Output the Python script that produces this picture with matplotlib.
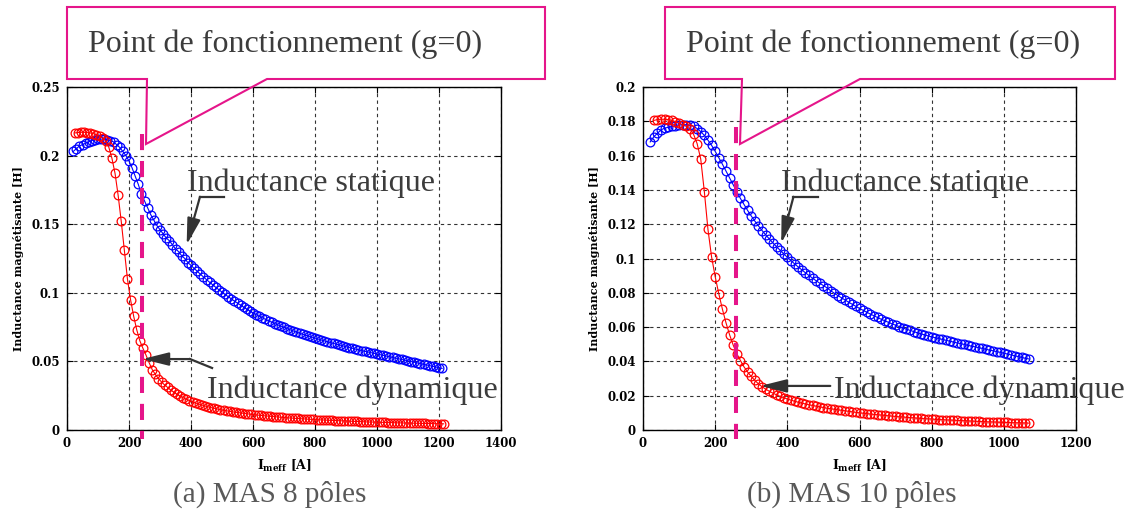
import numpy as np
import matplotlib
matplotlib.use("Agg")
import matplotlib.pyplot as plt
from matplotlib.patches import Polygon

plt.rcParams['font.family'] = 'DejaVu Serif'
plt.rcParams['font.weight'] = 'bold'
plt.rcParams['axes.labelweight'] = 'bold'
plt.rcParams['mathtext.fontset'] = 'dejavuserif'

# ---- data : MAS 8 poles -------------------------------------------------
i_stat_8 = list(range(20, 1211, 10))
L_stat_8 = [0.203, 0.205, 0.207, 0.208, 0.209, 0.210, 0.211, 0.2115, 0.212, 0.212,
            0.212, 0.2115, 0.211, 0.210, 0.208, 0.206, 0.203, 0.200, 0.196, 0.191,
            0.185, 0.179, 0.172, 0.167, 0.162, 0.157, 0.153, 0.149, 0.146, 0.143,
            0.140, 0.138, 0.135, 0.132, 0.130, 0.127, 0.125, 0.122, 0.120, 0.1178,
            0.1157, 0.1136, 0.1116, 0.1096, 0.1077, 0.1058, 0.1040, 0.1022, 0.1005, 0.0988,
            0.0972, 0.0956, 0.0940, 0.0925, 0.0910, 0.0895, 0.0881, 0.0867, 0.0853, 0.0841,
            0.0829, 0.0818, 0.0807, 0.0796, 0.0786, 0.0776, 0.0766, 0.0757, 0.0748, 0.0739,
            0.0730, 0.0722, 0.0714, 0.0706, 0.0698, 0.0691, 0.0684, 0.0677, 0.0670, 0.0663,
            0.0656, 0.0650, 0.0643, 0.0637, 0.0631, 0.0625, 0.0619, 0.0613, 0.0607, 0.0601,
            0.0596, 0.0590, 0.0585, 0.0579, 0.0574, 0.0569, 0.0564, 0.0559, 0.0554, 0.0549,
            0.0544, 0.0539, 0.0534, 0.0529, 0.0524, 0.0519, 0.0514, 0.0509, 0.0504, 0.0499,
            0.0494, 0.0489, 0.0484, 0.0479, 0.0474, 0.0469, 0.0464, 0.0459, 0.0454, 0.0449]

i_dyn_8 = list(range(25, 1216, 10))
L_dyn_8 = [0.2165, 0.2168, 0.217, 0.217, 0.2168, 0.2165, 0.216, 0.2152, 0.2142, 0.2128,
           0.2105, 0.206, 0.198, 0.187, 0.171, 0.152, 0.131, 0.110, 0.095, 0.083,
           0.073, 0.065, 0.0595, 0.0545, 0.049, 0.044, 0.0405, 0.0375, 0.035, 0.0328,
           0.031, 0.029, 0.0275, 0.026, 0.0247, 0.0235, 0.0224, 0.0214, 0.0205, 0.0197,
           0.0189, 0.0182, 0.0175, 0.0169, 0.0163, 0.0158, 0.0153, 0.0148, 0.0144, 0.0140,
           0.0136, 0.0132, 0.0129, 0.0126, 0.0123, 0.0120, 0.0117, 0.0114, 0.0111, 0.0109,
           0.0106, 0.0104, 0.0102, 0.0100, 0.0098, 0.0096, 0.0094, 0.0092, 0.0090, 0.0088,
           0.0087, 0.0085, 0.0084, 0.0082, 0.0081, 0.0079, 0.0078, 0.0077, 0.0075, 0.0074,
           0.0073, 0.0072, 0.0071, 0.0070, 0.0069, 0.0068, 0.0067, 0.0066, 0.0065, 0.0064,
           0.0063, 0.0062, 0.0061, 0.0060, 0.0059, 0.0058, 0.0058, 0.0057, 0.0056, 0.0056,
           0.0055, 0.0054, 0.0054, 0.0053, 0.0052, 0.0052, 0.0051, 0.0051, 0.0050, 0.0050,
           0.0049, 0.0049, 0.0048, 0.0048, 0.0047, 0.0047, 0.0046, 0.0046, 0.0045, 0.0045]

# ---- data : MAS 10 poles ------------------------------------------------
i_stat_10 = list(range(20, 1071, 10))
L_stat_10 = [0.168, 0.171, 0.173, 0.175, 0.176, 0.1765, 0.177, 0.1775, 0.178, 0.178,
             0.178, 0.1778, 0.177, 0.1758, 0.174, 0.1718, 0.169, 0.166, 0.1625, 0.1588,
             0.155, 0.151, 0.147, 0.143, 0.139, 0.135, 0.1315, 0.128, 0.1248, 0.1218,
             0.119, 0.1163, 0.1138, 0.1114, 0.1091, 0.1069, 0.1048, 0.1027, 0.1007, 0.0988,
             0.0969, 0.0951, 0.0934, 0.0917, 0.0901, 0.0885, 0.087, 0.0856, 0.0842, 0.0829,
             0.0812, 0.0798, 0.0784, 0.0771, 0.0758, 0.0745, 0.0733, 0.0721, 0.0709, 0.0698,
             0.0687, 0.0676, 0.0666, 0.0656, 0.0646, 0.0637, 0.0628, 0.0619, 0.0611, 0.0603,
             0.0595, 0.0588, 0.0581, 0.0574, 0.0567, 0.0561, 0.0555, 0.0549, 0.0543, 0.0538,
             0.0533, 0.0528, 0.0523, 0.0518, 0.0513, 0.0508, 0.0504, 0.0499, 0.0494, 0.0489,
             0.0485, 0.0480, 0.0476, 0.0471, 0.0466, 0.0462, 0.0457, 0.0453, 0.0448, 0.0443,
             0.0438, 0.0433, 0.0428, 0.0423, 0.0418, 0.0414]

i_dyn_10 = list(range(30, 1071, 10))
L_dyn_10 = [0.1805, 0.181, 0.1812, 0.1812, 0.181, 0.1805, 0.1798, 0.179, 0.178, 0.1772,
            0.1755, 0.1725, 0.167, 0.158, 0.139, 0.117, 0.101, 0.0895, 0.0795, 0.0705,
            0.0625, 0.0555, 0.0495, 0.0445, 0.0405, 0.0368, 0.0338, 0.0312, 0.0289, 0.0269,
            0.0252, 0.0238, 0.0226, 0.0215, 0.0205, 0.0196, 0.0188, 0.0181, 0.0174, 0.0168,
            0.0162, 0.0157, 0.0152, 0.0147, 0.0143, 0.0139, 0.0135, 0.0131, 0.0127, 0.0124,
            0.0121, 0.0118, 0.0115, 0.0112, 0.0109, 0.0106, 0.0103, 0.0100, 0.0098, 0.0096,
            0.0093, 0.0091, 0.0089, 0.0087, 0.0085, 0.0083, 0.0081, 0.0079, 0.0077, 0.0076,
            0.0074, 0.0072, 0.0071, 0.0069, 0.0068, 0.0066, 0.0065, 0.0064, 0.0062, 0.0061,
            0.0060, 0.0059, 0.0058, 0.0057, 0.0056, 0.0055, 0.0054, 0.0053, 0.0052, 0.0051,
            0.0050, 0.0049, 0.0048, 0.0047, 0.0047, 0.0046, 0.0045, 0.0044, 0.0044, 0.0043,
            0.0042, 0.0042, 0.0041, 0.0041, 0.0040]

# operating point (g=0) current
i_op_8 = 242
i_op_10 = 258

xticks_8 = [0, 200, 400, 600, 800, 1000, 1200, 1400]
yticks_8 = [0, 0.05, 0.1, 0.15, 0.2, 0.25]
ylabels_8 = ['0', '0.05', '0.1', '0.15', '0.2', '0.25']
xticks_10 = [0, 200, 400, 600, 800, 1000, 1200]
yticks_10 = [0, 0.02, 0.04, 0.06, 0.08, 0.1, 0.12, 0.14, 0.16, 0.18, 0.2]
ylabels_10 = ['0', '0.02', '0.04', '0.06', '0.08', '0.1', '0.12', '0.14', '0.16', '0.18', '0.2']

W, H = 1129, 513
MAG = '#E5158A'
TXT = '#3c3c3c'
SERIF = 'Liberation Serif'

fig = plt.figure(figsize=(W / 100, H / 100), dpi=100)


def px(x, y):
    return (x / W, 1 - y / H)


def setup(ax, xt, yt, yl, xmax, ymax):
    ax.set_xlim(0, xmax)
    ax.set_ylim(0, ymax)
    ax.set_xticks(xt)
    ax.set_xticklabels([str(v) for v in xt])
    ax.set_yticks(yt)
    ax.set_yticklabels(yl)
    ax.tick_params(direction='in', top=True, right=True, length=4, width=0.8,
                   labelsize=8.5, pad=5)
    ax.grid(True, color='#333333', linestyle=(0, (3, 3)), lw=0.8)
    for s in ax.spines.values():
        s.set_linewidth(1.0)
    ax.set_ylabel('Inductance magnétisante [H]', fontsize=8, labelpad=5)
    ax.set_xlabel(r'$\mathbf{I_{meff}}$ [A]', fontsize=9, labelpad=6)


def curves(ax, xs, ys, xd, yd, iop, ytop):
    ax.plot(xs, ys, color='blue', lw=0.8, marker='o', ms=6.3, mfc='none',
            mec='blue', mew=0.9, zorder=3)
    ax.plot(xd, yd, color='red', lw=0.8, marker='o', ms=6.3, mfc='none',
            mec='red', mew=0.9, zorder=3)
    ymin = ax.get_ylim()[1] * -0.025
    ax.plot([iop, iop], [ytop, ymin], color=MAG, lw=2.9,
            linestyle=(0, (4, 2.7)), clip_on=False, zorder=4)


def callout(pts):
    fig.add_artist(Polygon([px(x, y) for x, y in pts], closed=True,
                           transform=fig.transFigure, facecolor='none',
                           edgecolor=MAG, lw=1.5, zorder=5))


arrow = dict(arrowstyle='-|>,head_length=1.6,head_width=0.4', color='#333333',
             lw=1.6, shrinkA=0, shrinkB=0)

# ---------------- (a) MAS 8 poles ----------------
ax1 = fig.add_axes([67 / W, 1 - 430 / H, 434 / W, 343 / H])
setup(ax1, xticks_8, yticks_8, ylabels_8, 1400, 0.25)
curves(ax1, i_stat_8, L_stat_8, i_dyn_8, L_dyn_8, i_op_8, 0.2155)
ax1.text(386, 0.1742, 'Inductance statique', family=SERIF, weight='normal',
         fontsize=23, color=TXT, zorder=6)
ax1.plot([506, 429], [0.170, 0.170], color='#333333', lw=1.6, zorder=6)
ax1.annotate('', xy=(386, 0.135), xytext=(429, 0.170), arrowprops=arrow, zorder=6)
ax1.text(452, 0.0233, 'Inductance dynamique', family=SERIF, weight='normal',
         fontsize=23, color=TXT, zorder=6)
ax1.plot([468, 397], [0.0452, 0.0517], color='#333333', lw=1.6, zorder=6)
ax1.annotate('', xy=(243, 0.0517), xytext=(397, 0.0517), arrowprops=arrow, zorder=6)

callout([(67, 7), (545, 7), (545, 79), (267, 79), (146, 144), (147, 79), (67, 79)])
fig.text(*px(88, 52), 'Point de fonctionnement (g=0)', family=SERIF,
         weight='normal', fontsize=23, color=TXT)
fig.text(*px(270, 502), '(a) MAS 8 pôles', family=SERIF, weight='normal',
         fontsize=21, color='#595959', ha='center')

# ---------------- (b) MAS 10 poles ----------------
ax2 = fig.add_axes([643 / W, 1 - 430 / H, 433 / W, 343 / H])
setup(ax2, xticks_10, yticks_10, ylabels_10, 1200, 0.2)
curves(ax2, i_stat_10, L_stat_10, i_dyn_10, L_dyn_10, i_op_10, 0.1767)
ax2.text(383, 0.1394, 'Inductance statique', family=SERIF, weight='normal',
         fontsize=23, color=TXT, zorder=6)
ax2.plot([486, 417], [0.136, 0.136], color='#333333', lw=1.6, zorder=6)
ax2.annotate('', xy=(383, 0.1089), xytext=(417, 0.136), arrowprops=arrow, zorder=6)
ax2.text(528, 0.0187, 'Inductance dynamique', family=SERIF, weight='normal',
         fontsize=23, color=TXT, zorder=6)
ax2.annotate('', xy=(325, 0.0257), xytext=(519, 0.0257), arrowprops=arrow, zorder=6)

callout([(665, 7), (1115, 7), (1115, 79), (860, 79), (740, 144), (742, 79), (665, 79)])
fig.text(*px(686, 52), 'Point de fonctionnement (g=0)', family=SERIF,
         weight='normal', fontsize=23, color=TXT)
fig.text(*px(852, 502), '(b) MAS 10 pôles', family=SERIF, weight='normal',
         fontsize=21, color='#595959', ha='center')

fig.savefig('out.png', dpi=100)
